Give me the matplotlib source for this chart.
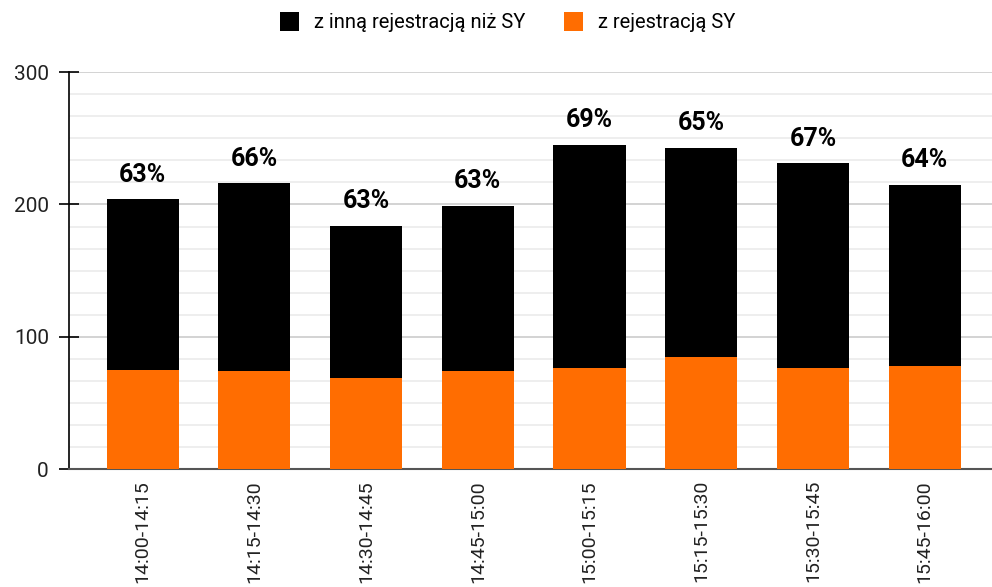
import matplotlib.pyplot as plt
import numpy as np
from matplotlib.ticker import MultipleLocator

plt.rcParams['font.family'] = ['Roboto', 'DejaVu Sans']

# dane
przedzialy = ['14:00-14:15', '14:15-14:30', '14:30-14:45', '14:45-15:00',
              '15:00-15:15', '15:15-15:30', '15:30-15:45', '15:45-16:00']
rejestracjaSY = [75, 74, 69, 74, 76, 85, 76, 78]
innaRejestracja = [129, 142, 115, 125, 169, 158, 155, 137]
procenty = ['63%', '66%', '63%', '63%', '69%', '65%', '67%', '64%']

x = np.arange(len(przedzialy))
suma = np.array(rejestracjaSY) + np.array(innaRejestracja)

fig = plt.figure(figsize=(9.92, 5.87), dpi=100)
ax = fig.add_axes([0.0696, 0.201, 0.93, 0.676])

ax.bar(x, innaRejestracja, bottom=rejestracjaSY, width=0.645, color='#000000',
       label='z inną rejestracją niż SY', zorder=3)
ax.bar(x, rejestracjaSY, width=0.645, color='#ff6d01', label='z rejestracją SY', zorder=3)

for xi, s, p in zip(x, suma, procenty):
    ax.annotate(p, (xi, s), xytext=(0, 9), textcoords='offset points',
                ha='center', va='bottom', fontsize=18, fontweight='bold')

ax.set_ylim(0, 300)
ax.set_xlim(-0.66, 7.6)
ax.yaxis.set_major_locator(MultipleLocator(100))
ax.yaxis.set_minor_locator(MultipleLocator(100 / 6))
ax.grid(axis='y', which='major', color='#cccccc', linewidth=1.2, zorder=0)
ax.grid(axis='y', which='minor', color='#ebebeb', linewidth=1.2, zorder=0)

ax.set_xticks(x)
ax.set_xticklabels(przedzialy, rotation=90, fontsize=14, color='#222222')
ax.tick_params(axis='x', length=0, pad=8)
ax.tick_params(axis='y', which='major', direction='inout', length=15, width=1.2,
               labelsize=15, pad=7, labelcolor='#222222')
ax.tick_params(axis='y', which='minor', length=0)

for s in ['top', 'right']:
    ax.spines[s].set_visible(False)
ax.spines['left'].set_color('#000000')
ax.spines['left'].set_linewidth(1.2)
ax.spines['bottom'].set_color('#555555')
ax.spines['bottom'].set_linewidth(1.5)

fig.legend(loc='upper center', bbox_to_anchor=(0.512, 1.01), ncol=2, frameon=False,
           fontsize=14.5, handlelength=0.95, handleheight=1.05, columnspacing=1.9,
           handletextpad=0.75)

fig.savefig('out.png', dpi=100)
